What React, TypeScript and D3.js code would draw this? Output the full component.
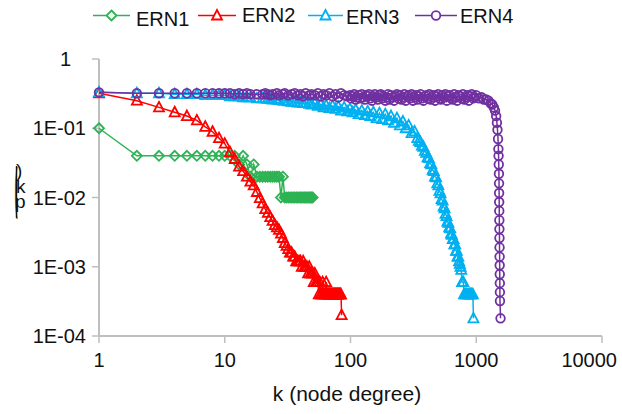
import React from "react";
import * as d3 from "d3";

// ---------- data ----------
const seriesNames = ["ERN1", "ERN2", "ERN3", "ERN4"];
const seriesColors = ["#2db354", "#ff0000", "#00b0f0", "#7030a0"];

const xTicks = [1, 10, 100, 1000, 10000];
const xTickLabels = ["1", "10", "100", "1000", "10000"];
const yTicks = [1, 0.1, 0.01, 0.001, 0.0001];
const yTickLabels = ["1", "1E-01", "1E-02", "1E-03", "1E-04"];

// ERN1: degree k = 1..50
const pErn1 = [
  0.10, 0.04, 0.04, 0.04, 0.04, 0.04, 0.04, 0.04, 0.04, 0.04,
  0.04, 0.04, 0.03, 0.04, 0.03, 0.02, 0.03, 0.02, 0.02, 0.02,
  0.02, 0.02, 0.02, 0.02, 0.02, 0.02, 0.02, 0.01, 0.02, 0.01,
  0.01, 0.01, 0.01, 0.01, 0.01, 0.01, 0.01, 0.01, 0.01, 0.01,
  0.01, 0.01, 0.01, 0.01, 0.01, 0.01, 0.01, 0.01, 0.01, 0.01,
];

// ERN2: degree k = 1..85
const pErn2 = [
  0.32, 0.25, 0.20, 0.17, 0.15, 0.13, 0.105, 0.089, 0.072, 0.060,
  0.045, 0.036, 0.028, 0.024, 0.020, 0.017, 0.015, 0.012, 0.0098, 0.0082,
  0.0068, 0.006, 0.0052, 0.0046, 0.004, 0.0037, 0.0034, 0.003, 0.0026, 0.0022,
  0.002, 0.0018, 0.0016, 0.0016, 0.0014, 0.0014, 0.0012, 0.0012, 0.0012, 0.0012,
  0.001, 0.0012, 0.001, 0.001, 0.001, 0.0008, 0.001, 0.0008, 0.0008, 0.0008,
  0.0006, 0.0008, 0.0006, 0.0006, 0.0006, 0.0004, 0.0006, 0.0004, 0.0004, 0.0006,
  0.0004, 0.0004, 0.0004, 0.0006, 0.0004, 0.0004, 0.0004, 0.0004, 0.0004, 0.0004,
  0.0004, 0.0004, 0.0004, 0.0004, 0.0004, 0.0004, 0.0004, 0.0004, 0.0004, 0.0004,
  0.0004, 0.0004, 0.0004, 0.0004, 0.0002,
];

const kErn3 = [
  1, 2, 3, 4, 5, 6, 7, 8, 9, 10, 11, 12, 13, 14, 15, 16, 18,
  20, 21, 22, 23, 24, 26, 27, 29, 30, 32,
  34, 36, 38, 40, 42, 44, 47, 49, 52, 55,
  58, 61, 64, 68, 72, 76, 80, 84, 89, 94,
  99, 104, 110, 116, 123, 130, 137, 144, 152, 161,
  170, 179, 189, 199, 210, 222, 234, 247, 261, 275,
  290, 306, 323,
  340, 350, 360, 370, 380, 390, 400, 410, 420, 430,
  440, 450, 460, 470, 480, 490, 500, 510, 520, 530,
  540, 550, 560, 570, 580, 590, 600, 610, 620, 630,
  640, 650, 660, 670, 680, 690, 700, 710, 720, 730,
  740, 750, 760,
  771, 790, 800, 820, 840, 860, 880, 900, 920, 940, 950,
];
const pErn3 = [
  0.33, 0.32, 0.32, 0.31, 0.31, 0.31, 0.30, 0.30, 0.30, 0.30, 0.29, 0.29, 0.29, 0.28, 0.28, 0.28, 0.27,
  0.27, 0.27, 0.265, 0.265, 0.26, 0.26, 0.255, 0.25, 0.25, 0.245,
  0.24, 0.24, 0.235, 0.235, 0.23, 0.23, 0.225, 0.22, 0.23, 0.21,
  0.22, 0.20, 0.215, 0.195, 0.21, 0.19, 0.205, 0.18, 0.20, 0.175,
  0.19, 0.17, 0.185, 0.16, 0.18, 0.155, 0.175, 0.15, 0.17, 0.14,
  0.165, 0.135, 0.16, 0.13, 0.15, 0.12, 0.14, 0.11, 0.125, 0.10,
  0.11, 0.085, 0.09,
  0.072, 0.066, 0.063, 0.056, 0.054, 0.047, 0.044, 0.038, 0.037, 0.031,
  0.030, 0.025, 0.024, 0.020, 0.0195, 0.016, 0.015, 0.0125, 0.0115, 0.0095,
  0.009, 0.0074, 0.007, 0.0058, 0.0054, 0.0045, 0.0043, 0.0037, 0.0036, 0.003,
  0.0029, 0.0025, 0.0025, 0.0021, 0.0021, 0.0017, 0.0017, 0.0014, 0.0014, 0.0012,
  0.0011, 0.0010, 0.0009,
  0.0006, 0.0006, 0.0004, 0.0004, 0.0004, 0.0004, 0.0004, 0.0004, 0.0004, 0.0004, 0.00018,
];

const kErn4 = [
  1, 2, 3, 4, 5, 6, 7, 8, 9, 10, 11, 12, 13, 14, 15, 16, 18,
  20, 21, 22, 23, 24, 26, 27, 29, 30, 32,
  34, 36, 38, 40, 42, 44, 47, 49, 52, 55,
  58, 61, 64, 68, 72, 76, 80, 84, 89, 94,
  99, 101, 104, 107, 110, 113, 116, 119, 123, 126,
  130, 133, 137, 140, 144, 148, 152, 156, 161, 165,
  170, 174, 179, 184, 189, 194, 199, 204, 210, 216,
  222, 228, 234, 240, 247, 254, 261, 268, 275, 282,
  290, 298, 306, 314, 323, 332, 341, 350, 360, 370,
  380, 390, 401, 412, 423, 434, 446, 458, 471, 484,
  497, 510, 524, 538, 553, 568, 583, 599, 615, 632,
  649, 667, 685, 704, 723, 743, 763, 784, 805, 827,
  849, 872, 896, 920, 945, 971, 997,
  1050, 1100, 1150, 1200, 1250, 1300, 1340, 1380, 1410, 1440, 1460, 1475, 1490, 1500, 1505, 1510, 1515, 1518,
  1520, 1522, 1524, 1526, 1528, 1530, 1532, 1534, 1536, 1538, 1540, 1542, 1544, 1560,
];
const pErn4 = [
  0.33, 0.32, 0.32, 0.32, 0.32, 0.32, 0.32, 0.32, 0.32, 0.32, 0.32, 0.31, 0.32, 0.31, 0.32, 0.31, 0.31,
  0.31, 0.32, 0.31, 0.30, 0.31, 0.32, 0.30, 0.31, 0.32, 0.30,
  0.31, 0.32, 0.30, 0.31, 0.29, 0.32, 0.30, 0.31, 0.30, 0.32,
  0.29, 0.31, 0.30, 0.32, 0.29, 0.31, 0.28, 0.32, 0.30, 0.29,
  0.30, 0.27, 0.29, 0.31, 0.26, 0.28, 0.30, 0.27, 0.31, 0.28,
  0.26, 0.30, 0.29, 0.31, 0.27, 0.25, 0.29, 0.31, 0.28, 0.26,
  0.30, 0.31, 0.27, 0.29, 0.25, 0.28, 0.31, 0.26, 0.30, 0.28,
  0.25, 0.29, 0.31, 0.27, 0.30, 0.26, 0.28, 0.31, 0.25, 0.29,
  0.30, 0.27, 0.31, 0.25, 0.28, 0.30, 0.26, 0.29, 0.31, 0.27,
  0.25, 0.29, 0.30, 0.27, 0.31, 0.26, 0.28, 0.30, 0.25, 0.29,
  0.31, 0.27, 0.26, 0.30, 0.28, 0.31, 0.25, 0.29, 0.30, 0.27,
  0.26, 0.31, 0.28, 0.25, 0.30, 0.29, 0.27, 0.31, 0.26, 0.28,
  0.30, 0.25, 0.29, 0.31, 0.27, 0.28, 0.30,
  0.27, 0.28, 0.26, 0.26, 0.25, 0.23, 0.22, 0.20, 0.18, 0.15, 0.12, 0.095, 0.07, 0.05, 0.04, 0.03, 0.022, 0.016,
  0.0116, 0.0086, 0.0064, 0.0047, 0.0035, 0.0026, 0.0019, 0.0014, 0.00105, 0.00078, 0.00058, 0.00043, 0.00032, 0.00018,
];

// ---------- chart ----------
type Pt = { k: number; p: number };

const x = d3.scaleLog().domain([1, 10000]).range([99, 602]);
const y = d3.scaleLog().domain([0.0001, 1]).range([336, 59]);

const series: Pt[][] = [
  pErn1.map((p, i) => ({ k: i + 1, p })),
  pErn2.map((p, i) => ({ k: i + 1, p })),
  kErn3.map((k, i) => ({ k, p: pErn3[i] })),
  kErn4.map((k, i) => ({ k, p: pErn4[i] })),
];
const markerTypes = ["diamond", "triangle", "triangle", "circle"];

const line = d3
  .line<Pt>()
  .x((d) => x(d.k))
  .y((d) => y(d.p));

function Marker({
  type,
  cx,
  cy,
  color,
  fill = "none",
}: {
  type: string;
  cx: number;
  cy: number;
  color: string;
  fill?: string;
}) {
  const common = { fill, stroke: color, strokeWidth: 1.8 };
  if (type === "circle") return <circle cx={cx} cy={cy} r={4.3} {...common} />;
  if (type === "diamond")
    return <path d={`M${cx},${cy - 5}L${cx + 5},${cy}L${cx},${cy + 5}L${cx - 5},${cy}Z`} {...common} />;
  return <path d={`M${cx},${cy - 5.5}L${cx + 5},${cy + 4}L${cx - 5},${cy + 4}Z`} {...common} />;
}

const font = "'Liberation Sans', Arial, sans-serif";
const axisColor = "#bfbfbf";

const legendLayout = [
  { x1: 93, x2: 130, tx: 136, ty: 26 },
  { x1: 198, x2: 236, tx: 242, ty: 22 },
  { x1: 308, x2: 343, tx: 346, ty: 24 },
  { x1: 415, x2: 457, tx: 460, ty: 23 },
];

export default function App() {
  const lastX = xTicks.length - 1;
  return (
    <svg
      width={622}
      height={414}
      style={{ position: "absolute", left: 0, top: 0, background: "#fff" }}
      fontFamily={font}
    >
      <rect width={622} height={414} fill="#fff" />
      {/* axes */}
      <line x1={x(1)} x2={x(1)} y1={y(1)} y2={y(0.0001)} stroke={axisColor} strokeWidth={2} />
      <line x1={x(1)} x2={x(10000)} y1={y(0.0001)} y2={y(0.0001)} stroke={axisColor} strokeWidth={2} />
      {yTicks.map((t, i) => (
        <g key={"yt" + i}>
          <line x1={x(1) - 7} x2={x(1)} y1={y(t)} y2={y(t)} stroke={axisColor} strokeWidth={1.5} />
          <text
            x={yTickLabels[i] === "1" ? 71 : 86}
            y={y(t) + 7}
            textAnchor="end"
            fontSize={20}
            fill="#111"
          >
            {yTickLabels[i]}
          </text>
        </g>
      ))}
      {xTicks.map((t, i) => (
        <g key={"xt" + i}>
          <line x1={x(t)} x2={x(t)} y1={y(0.0001)} y2={y(0.0001) + 7} stroke={axisColor} strokeWidth={1.5} />
          <text
            x={i === lastX ? 617 : x(t)}
            y={367}
            textAnchor={i === lastX ? "end" : "middle"}
            fontSize={20}
            fill="#111"
          >
            {xTickLabels[i]}
          </text>
        </g>
      ))}
      <text x={347} y={401} textAnchor="middle" fontSize={21} fill="#111">
        k (node degree)
      </text>
      {/* y-axis title p(k), glyphs stacked as in the source */}
      <line x1={16.5} x2={16.5} y1={166} y2={218} stroke="#111" strokeWidth={1.4} />
      <text transform="translate(14.5,207) scale(0.45,2.8)" fontSize={20} fill="#111">
        (
      </text>
      <text fontSize={19} fill="#111">
        <tspan x={16} y={177}>)</tspan>
        <tspan x={16} y={193}>k</tspan>
        <tspan x={15} y={208}>p</tspan>
      </text>

      {/* series */}
      {series.map((data, si) => (
        <g key={"s" + si}>
          <path d={line(data) || ""} fill="none" stroke={seriesColors[si]} strokeWidth={1.5} />
          {data.map((d, i) => (
            <Marker key={i} type={markerTypes[si]} cx={x(d.k)} cy={y(d.p)} color={seriesColors[si]} />
          ))}
        </g>
      ))}

      {/* legend */}
      {seriesNames.map((name, i) => {
        const L = legendLayout[i];
        return (
          <g key={"lg" + i}>
            <line x1={L.x1} x2={L.x2} y1={15.5} y2={15.5} stroke={seriesColors[i]} strokeWidth={1.5} />
            <Marker type={markerTypes[i]} cx={(L.x1 + L.x2) / 2} cy={15.5} color={seriesColors[i]} fill="#fff" />
            <text x={L.tx} y={L.ty} fontSize={20} fill="#111">
              {name}
            </text>
          </g>
        );
      })}
    </svg>
  );
}
